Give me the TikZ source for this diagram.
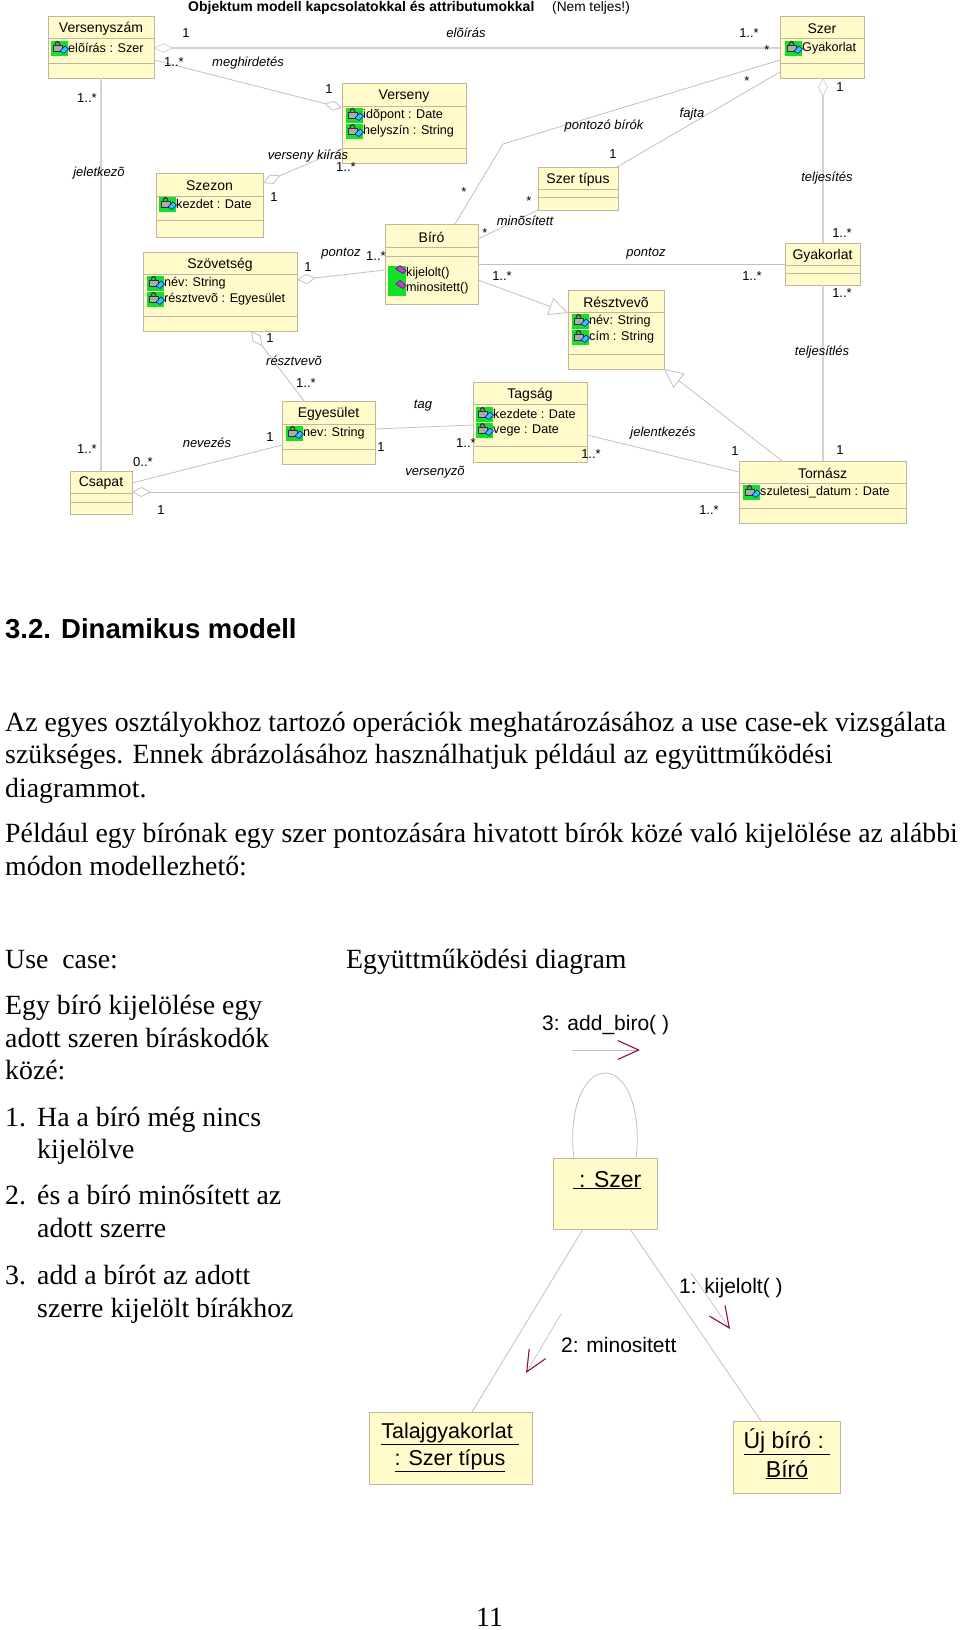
\documentclass[tikz,border=0pt]{standalone}
\usepackage{fontspec}
\usepackage{xcolor}
\usepackage{tikz}
\usetikzlibrary{arrows.meta}
\setmainfont{Liberation Sans}
\newfontfamily\bodyserif{Liberation Serif}
\definecolor{classfill}{HTML}{FFFBCB}
\definecolor{classedge}{HTML}{C4B69C}
\definecolor{assocline}{HTML}{C8BCC4}
\definecolor{heavyline}{HTML}{D4D0D4}
\definecolor{msgred}{HTML}{8E0B4A}
\definecolor{icongreen}{HTML}{12E02A}
\definecolor{iconcyan}{HTML}{35C4EE}
\definecolor{iconpink}{HTML}{C83CD8}
\tikzset{
  classbox/.style={draw=classedge,fill=classfill,line width=0.8pt,inner sep=0pt,outer sep=0pt,anchor=north west},
  classname/.style={font=\fontsize{14}{16}\selectfont,inner sep=0pt},
  attrtext/.style={font=\fontsize{12.6}{15}\selectfont,anchor=west,inner sep=0pt},
  multlabel/.style={font=\fontsize{13}{15}\selectfont,inner sep=0pt},
  assoclabel/.style={font=\fontsize{13}{15}\selectfont\itshape,inner sep=0pt},
  assoc/.style={draw=assocline,line width=0.8pt},
  heavy/.style={draw=heavyline,line width=1.6pt},
  aggr/.style={arrows={Diamond[open,length=19pt,width=10pt,line width=0.8pt]-}},
  genz/.style={arrows={-Triangle[open,length=19pt,width=18pt,line width=0.8pt]}},
  msgarrow/.style={draw=assocline,line width=0.7pt,arrows={-Straight Barb[color=msgred,length=21pt,width=19pt,line width=1.1pt]}},
  bodytext/.style={font=\bodyserif\fontsize{27.8}{32}\selectfont,anchor=base west,inner sep=0pt},
  objtext/.style={font=\fontsize{23}{28}\selectfont,anchor=base,inner sep=0pt},
  talajtext/.style={font=\fontsize{21.5}{28}\selectfont,anchor=base,inner sep=0pt},
  msgtext/.style={font=\fontsize{21}{24}\selectfont,anchor=base west,inner sep=0pt},
  lockicon/.pic={
    \fill[icongreen] (-17,-7.5) rectangle (0,7.5);
    \draw[black!75,line width=1.4pt] (-13,-2) .. controls (-13,-8) and (-8,-8) .. (-8,-2);
    \fill[gray!65,draw=black!80,line width=1pt] (-15,-2.5) rectangle (-6,3.5);
    \fill[iconcyan,draw=blue!70!black,line width=0.5pt] (-8,3) -- (-3,-2) -- (0.5,1) -- (-4,5.5) -- cycle;
  },
  methicon/.pic={
    \fill[icongreen] (-18,-7) rectangle (0,7.5);
    \fill[iconpink,draw=violet!70!black,line width=0.5pt] (-10,-4) -- (-6,-7.5) -- (0,-2.5) -- (-3,0.5) -- cycle;
  }
}
\begin{document}
\begin{tikzpicture}[x=1pt,y=-1pt]
  \useasboundingbox (0,0) rectangle (960,1630);
  \foreach \n/\xa/\ya/\xb/\yb/\sa/\sb/\t in {
    versenyszam/48/16/154/78/38/63/Versenyszám,
    verseny/342/83/466/163/106/148/Verseny,
    szezon/156/173/263/237/196/220/Szezon,
    szovetseg/143/252/297/331/274/316/Szövetség,
    biro/385/224/478/304/247/256/Bíró,
    szertipus/538/167/618/210/189/197/Szer típus,
    szer/780/16/864/78/38/63/Szer,
    gyakorlat/785/243/860/285/265/273/Gyakorlat,
    resztvevo/568/290/664/369/312/354/Résztvevõ,
    tagsag/473/382/587/462/404/446/Tagság,
    egyesulet/282/401/375/464/424/449/Egyesület,
    csapat/70/471/132/514/493/502/Csapat,
    tornasz/739/461/906/523/483/508/Tornász} {
    \pgfmathsetmacro\boxw{\xb-\xa}
    \pgfmathsetmacro\boxh{\yb-\ya}
    \node[classbox,minimum width=\boxw pt,minimum height=\boxh pt] (\n) at (\xa,\ya) {};
    \draw[classedge,line width=0.8pt] (\xa,\sa) -- (\xb,\sa);
    \draw[classedge,line width=0.8pt] (\xa,\sb) -- (\xb,\sb);
    \node[classname] (\n-name) at ({(\xa+\xb)/2},{(\ya+\sa)/2+1.5}) {\t};
  }
  % attributes and methods
  \foreach \x/\y/\s [count=\i] in {
    68/48/elõírás : Szer, 363/115/idõpont : Date, 363/131/helyszín : String,
    176/204/kezdet : Date, 164/283/név: String, 164/299/résztvevõ : Egyesület,
    802/48/Gyakorlat, 589/321/név: String, 589/337/cím : String,
    493/414/kezdete : Date, 493/430/vege : Date, 303/433/nev: String,
    760/492/szuletesi\_datum : Date} {
    \pic at (\x,\y) {lockicon};
    \node[attrtext] (attr\i) at (\x,\y) {\s};
  }
  \foreach \y/\s [count=\i] in {273/kijelolt(), 288/minositett()} {
    \pic at (406,\y) {methicon};
    \node[attrtext] (meth\i) at (406,\y) {\s};
  }
  % connectors
  \draw[heavy,aggr] (versenyszam.east |- 0,48) -- (szer.west |- 0,48);
  \draw[assoc,arrows={-Diamond[open,length=18pt,width=10pt,line width=0.8pt]}] (versenyszam.east |- 0,60) -- (verseny.west |- 0,108);
  \draw[assoc,aggr] (szezon.east |- 0,183) -- (verseny.west |- 0,149);
  \draw[assoc,aggr] (szovetseg.east |- 0,280) -- (biro.west |- 0,270);
  \draw[assoc,aggr] (szovetseg.south -| 251,0) -- (egyesulet.north -| 304,0);
  \draw[heavy] (versenyszam.south) -- (csapat.north -| versenyszam.south);
  \draw[assoc] (csapat.east |- 0,483) -- (egyesulet.west |- 0,445);
  \draw[assoc,aggr] (csapat.east |- 0,492) -- (tornasz.west |- 0,492);
  \draw[assoc] (egyesulet.east |- 0,429) -- (tagsag.west |- 0,425);
  \draw[assoc] (tagsag.east |- 0,435) -- (tornasz.west |- 0,472);
  \coordinate (pontbend) at (503,144);
  \draw[assoc] (biro.north -| 455,0) -- (pontbend) -- (szer.west |- 0,60);
  \draw[assoc] (szertipus.north -| 617,0) -- (szer.west |- 0,72);
  \draw[assoc] (biro.east |- 0,239) -- (szertipus.west |- 0,210);
  \draw[assoc] (biro.east |- 0,264) -- (gyakorlat.west |- 0,264);
  \draw[assoc,genz] (biro.east |- 0,280) -- (resztvevo.west |- 0,313);
  \draw[assoc,genz] (tornasz.north -| 782,0) -- (resztvevo.south east);
  \draw[heavy,aggr] (szer.south -| 823,0) -- (gyakorlat.north -| 823,0);
  \draw[heavy] (gyakorlat.south -| 823,0) -- (tornasz.north -| 823,0);
  % multiplicities
  \foreach \x/\y/\m [count=\i] in {
    186/33/1, 174/62/1..*, 87/98/1..*, 329/89/1, 346/167/1..*, 274/197/1,
    464/192/*, 376/256/1..*, 308/267/1, 749/33/1..*, 767/50/*, 747/81/*,
    840/87/1, 613/154/1, 529/201/*, 485/233/*, 842/233/1..*, 270/338/1,
    306/383/1..*, 270/437/1, 87/449/1..*, 143/462/0..*, 161/510/1, 381/447/1,
    466/443/1..*, 502/276/1..*, 752/276/1..*, 842/293/1..*, 735/451/1,
    840/450/1, 591/454/1..*, 709/510/1..*} {
    \node[multlabel] (mult\i) at (\x,\y) {\m};
  }
  \foreach \x/\y/\l [count=\i] in {
    466/33/elõírás, 248/63/meghirdetés, 99/173/jeletkezõ, 308/156/verseny kiírás,
    341/254/pontoz, 604/126/pontozó bírók, 692/114/fajta, 827/178/teljesítés,
    525/221/minõsített, 646/254/pontoz, 294/361/résztvevõ, 822/352/teljesítlés,
    423/406/tag, 435/472/versenyzõ, 207/443/nevezés, 663/433/jelentkezés} {
    \node[assoclabel] (role\i) at (\x,\y) {\l};
  }
  \node[font=\fontsize{14}{15}\selectfont\bfseries,anchor=base west,inner sep=0pt] (modeltitle) at (188,11)
    {Objektum modell kapcsolatokkal és attributumokkal};
  \node[font=\fontsize{13.7}{15}\selectfont,anchor=base west,inner sep=0pt] (modelnote) at (552,11) {(Nem teljes!)};
  % running text
  \node[font=\fontsize{27.5}{32}\selectfont\bfseries,anchor=base west,inner sep=0pt] (section) at (5,638) {3.2. Dinamikus modell};
  \foreach \x/\y/\s [count=\i] in {
    5/731/Az egyes osztályokhoz tartozó operációk meghatározásához a use case-ek vizsgálata,
    5/763/szükséges. Ennek ábrázolásához használhatjuk például az együttműködési,
    5/797/diagrammot.,
    5/842/Például egy bírónak egy szer pontozására hivatott bírók közé való kijelölése az alábbi,
    5/875/módon modellezhető:,
    5/968/Use\ \ case:,
    346/968/Együttműködési diagram,
    5/1014/Egy bíró kijelölése egy,
    5/1047/adott szeren bíráskodók,
    5/1079/közé:,
    5/1126/1.,
    37/1126/Ha a bíró még nincs,
    37/1158/kijelölve,
    5/1204/2.,
    37/1204/és a bíró minősített az,
    37/1237/adott szerre,
    5/1284/3.,
    37/1284/add a bírót az adott,
    37/1317/szerre kijelölt bírákhoz,
    476/1626/11} {
    \node[bodytext] (line\i) at (\x,\y) {\s};
  }
  % collaboration diagram
  \foreach \n/\xa/\ya/\xb/\yb in {
    szerobj/553/1158/657/1229, talajobj/369/1412/532/1484, ujbiroobj/733/1421/840/1493} {
    \pgfmathsetmacro\boxw{\xb-\xa}
    \pgfmathsetmacro\boxh{\yb-\ya}
    \node[classbox,minimum width=\boxw pt,minimum height=\boxh pt] (\n) at (\xa,\ya) {};
  }
  \node[objtext] (szername) at (607,1187) {\underline{\ : Szer}};
  \node[talajtext] (talajname) at (450,1438) {\underline{Talajgyakorlat\ }};
  \node[talajtext] (talajtype) at (450,1465) {\underline{: Szer típus}};
  \node[objtext] (ujname) at (787,1448) {\underline{Új bíró :\ }};
  \node[objtext] (ujtype) at (787,1477) {\underline{Bíró}};
  \draw[assoc] (szerobj.north -| 574,0) .. controls (568,1112) and (583,1073) .. (605,1073)
    .. controls (627,1073) and (642,1112) .. (szerobj.north -| 636,0);
  \draw[assoc] (szerobj.south -| 583,0) -- (talajobj.north -| 472,0);
  \draw[assoc] (szerobj.south -| 630,0) -- (ujbiroobj.north -| 761,0);
  \coordinate (msgthreea) at (572,1050);
  \coordinate (msgthreeb) at (640,1050);
  \coordinate (msgonea) at (691,1273);
  \coordinate (msgoneb) at (730,1329);
  \coordinate (msgtwoa) at (561,1314);
  \coordinate (msgtwob) at (526,1373);
  \draw[msgarrow] (msgthreea) -- (msgthreeb);
  \draw[msgarrow] (msgonea) -- (msgoneb);
  \draw[msgarrow] (msgtwoa) -- (msgtwob);
  \node[msgtext] (msgthree) at (542,1030) {3: add\_biro( )};
  \node[msgtext] (msgone) at (679,1293) {1: kijelolt( )};
  \node[msgtext] (msgtwo) at (561,1352) {2: minositett};
\end{tikzpicture}
\end{document}
